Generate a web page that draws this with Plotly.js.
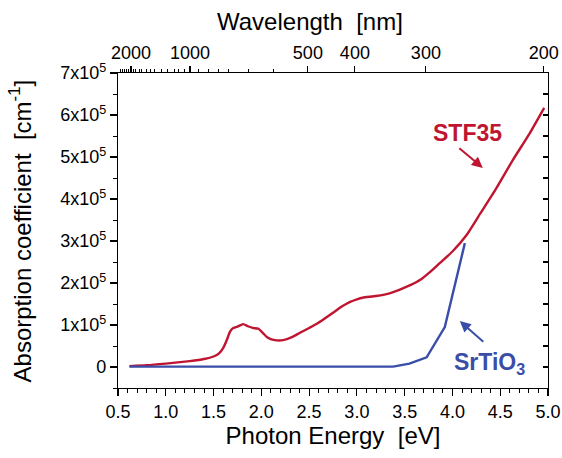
<!DOCTYPE html>
<html>
<head>
<meta charset="utf-8">
<script src="https://cdn.plot.ly/plotly-3.0.1.min.js"></script>
<style>html,body{margin:0;padding:0;background:#fff;}#plot{width:562px;height:458px;}</style>
</head>
<body>
<div id="plot"></div>
<script>
// Photon energy [eV] and absorption coefficient [10^5 cm^-1]
var stfEnergy = [0.62,0.8,1.0,1.25,1.4,1.5,1.56,1.6,1.64,1.67,1.70,1.75,1.81,1.86,1.91,1.97,2.02,2.06,2.14,2.23,2.32,2.4,2.5,2.58,2.66,2.75,2.85,2.93,3.0,3.06,3.2,3.35,3.48,3.57,3.66,3.77,3.87,4.0,4.15,4.29,4.46,4.63,4.81,4.96];
var stfAbs    = [0.02,0.04,0.08,0.14,0.19,0.25,0.33,0.45,0.65,0.83,0.92,0.96,1.02,0.97,0.93,0.91,0.80,0.71,0.64,0.64,0.71,0.81,0.93,1.03,1.15,1.29,1.45,1.55,1.61,1.65,1.69,1.76,1.87,1.96,2.07,2.27,2.48,2.75,3.15,3.65,4.26,4.92,5.57,6.17];
var stoEnergy = [0.62,1.25,2.37,3.0,3.38,3.55,3.73,3.92,4.13];
var stoAbs    = [0.01,0.01,0.02,0.02,0.01,0.08,0.23,0.95,2.95];

// Y tick labels
var yTickVals = [0,1,2,3,4,5,6,7];
var yTickText = ['0','1x10<sup>5</sup>','2x10<sup>5</sup>','3x10<sup>5</sup>','4x10<sup>5</sup>','5x10<sup>5</sup>','6x10<sup>5</sup>','7x10<sup>5</sup>'];

// Top (wavelength) axis: label positions as drawn (in eV) and labels
var wlPos    = [0.636,1.253,2.487,2.979,3.722,4.956];
var wlLabels = ['2000','1000','500','400','300','200'];
var wlMinorPos = [0.521,0.542,0.563,0.584,0.605,0.657,0.688,0.72,0.751,0.793,0.835,0.887,0.96,1.023,1.086,1.138,1.201,1.347,1.452,1.556,1.661,1.87,2.132];

var red = '#c01530';
var blue = '#3a4ea8';
var font = 'Arial, "Liberation Sans", sans-serif';

var traces = [
  {x: stfEnergy, y: stfAbs, mode: 'lines', line: {color: red, width: 2.4, shape: 'spline', smoothing: 0.5}, hoverinfo: 'x+y', name: 'STF35'},
  {x: stoEnergy, y: stoAbs, mode: 'lines', line: {color: blue, width: 2.4}, hoverinfo: 'x+y', name: 'SrTiO3'},
  // invisible carriers so the top and right axes are drawn
  {x: stfEnergy, y: stfAbs, xaxis: 'x2', yaxis: 'y', mode: 'lines', opacity: 0, line: {width: 0}, hoverinfo: 'skip'},
  {x: stfEnergy, y: stfAbs, xaxis: 'x', yaxis: 'y2', mode: 'lines', opacity: 0, line: {width: 0}, hoverinfo: 'skip'}
];

var axisCommon = {showgrid: false, zeroline: false, showline: true, linecolor: '#000', linewidth: 1.2, tickcolor: '#000', tickwidth: 1.2, tickfont: {family: font, size: 18, color: '#000'}};

var layout = {
  width: 562, height: 458,
  margin: {l: 118, r: 14, t: 73, b: 70},
  paper_bgcolor: '#fff', plot_bgcolor: '#fff',
  showlegend: false,
  font: {family: font, color: '#000'},
  xaxis: Object.assign({}, axisCommon, {
    range: [0.5, 5.0], tick0: 0.5, dtick: 0.5, tickformat: '.1f',
    ticks: 'outside', ticklen: 7,
    minor: {dtick: 0.1, tick0: 0.5, ticks: 'outside', ticklen: 3.5, tickcolor: '#000', tickwidth: 1},
    title: {text: 'Photon Energy  [eV]', font: {family: font, size: 24, color: '#000'}, standoff: 3}
  }),
  xaxis2: Object.assign({}, axisCommon, {
    overlaying: 'x', side: 'top', anchor: 'y',
    range: [0.5, 5.0],
    tickmode: 'array', tickvals: wlPos, ticktext: wlLabels,
    ticks: 'outside', ticklen: 6,
    minor: {tickmode: 'array', tickvals: wlMinorPos, ticks: 'outside', ticklen: 3, tickcolor: '#000', tickwidth: 1}
  }),
  yaxis: Object.assign({}, axisCommon, {
    range: [-0.5, 7.0],
    tickmode: 'array', tickvals: yTickVals, ticktext: yTickText,
    ticks: 'outside', ticklen: 7,
    minor: {dtick: 0.5, tick0: 0, ticks: 'outside', ticklen: 4, tickcolor: '#000', tickwidth: 1}
  }),
  yaxis2: Object.assign({}, axisCommon, {
    overlaying: 'y', side: 'right', anchor: 'x',
    range: [-0.5, 7.0], tick0: 0, dtick: 0.5,
    ticks: 'inside', ticklen: 5, showticklabels: false
  }),
  annotations: [
    {x: 0.447, y: 1, xref: 'paper', yref: 'paper', yshift: 52, xanchor: 'center', yanchor: 'middle', text: 'Wavelength  [nm]', showarrow: false, font: {family: font, size: 24, color: '#000'}},
    {x: -0.228, y: 0.5, xref: 'paper', yref: 'paper', xanchor: 'center', yanchor: 'middle', textangle: -90, text: 'Absorption coefficient  [cm<sup>-1</sup>]', showarrow: false, font: {family: font, size: 24, color: '#000'}},
    {x: 4.16, y: 5.57, xref: 'x', yref: 'y', text: '<b>STF35</b>', showarrow: false, font: {family: font, size: 23, color: red}},
    {x: 4.318, y: 4.74, xref: 'x', yref: 'y', text: '', showarrow: true, ax: -25, ay: -21, arrowhead: 2, arrowsize: 1.1, arrowwidth: 2, arrowcolor: red},
    {x: 4.39, y: 0.08, xref: 'x', yref: 'y', text: '<b>SrTiO<sub>3</sub></b>', showarrow: false, font: {family: font, size: 23, color: blue}},
    {x: 4.077, y: 1.095, xref: 'x', yref: 'y', text: '', showarrow: true, ax: 25, ay: 22, arrowhead: 2, arrowsize: 1.1, arrowwidth: 2, arrowcolor: blue}
  ]
};

Plotly.newPlot('plot', traces, layout, {displayModeBar: false, staticPlot: true});
</script>
</body>
</html>
